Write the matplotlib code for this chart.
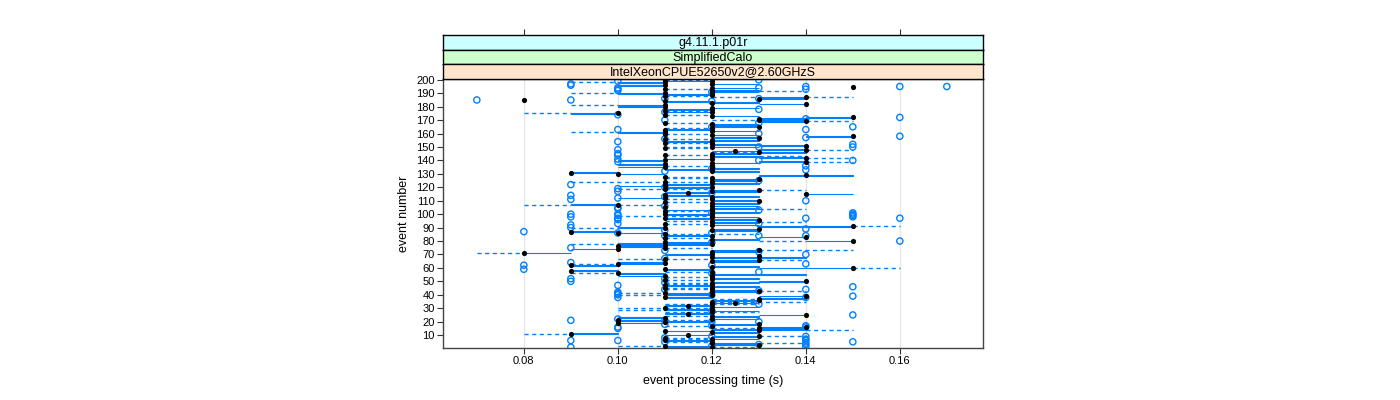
import numpy as np
import matplotlib.pyplot as plt
from matplotlib.patches import Rectangle
from matplotlib.collections import LineCollection

plt.rcParams['font.family'] = ['Liberation Sans', 'DejaVu Sans']

# per-event summary of processing time, in units of 0.01 s (events 1..200)
med = [
    12, 11, 13, 12, 12, 11, 12, 11, 13, 11.5,
    9, 12, 11, 13, 13, 14, 12, 13, 10, 11,
    10, 12, 11, 12, 14, 11.5, 12, 12, 12, 11,
    12, 11.5, 12, 12.5, 12, 13, 13, 11, 14, 12,
    11, 12, 13, 12, 11, 12, 11, 12, 12, 14,
    11, 12, 12, 11, 12, 10, 12, 9, 11, 15,
    12, 9, 10, 11, 12, 13, 11, 12, 13, 12,
    8, 12, 13, 10, 11, 10, 11, 12, 11, 15,
    12, 11, 14, 12, 11, 10, 9, 12, 13, 11,
    15, 12, 11, 12, 12, 13, 11, 12, 12, 11,
    12, 11, 12, 12, 11, 12, 10, 12, 11, 13,
    12, 11, 12, 11, 14, 11.5, 12, 13, 11, 12,
    11, 11, 12, 11, 12, 13, 12, 11, 14, 10,
    9, 12, 12, 12, 11, 12, 11, 12, 14, 11,
    12, 14, 12, 11, 12, 13, 12.5, 14, 11, 12,
    14, 12, 11, 12, 12, 11, 13, 15, 12, 11,
    11, 12, 11, 12, 13, 12, 12, 11, 14, 13,
    13, 15, 12, 11, 10, 12, 11, 12, 12, 11,
    11, 14, 12, 11, 8, 13, 14, 11, 12, 11,
    12, 12, 11, 12, 15, 11, 12, 11, 12, 11,
]
box_lo = [
    11, 11, 12, 12, 12, 11, 12, 11, 12, 11,
    9, 12, 11, 12, 13, 13, 12, 12, 10, 11,
    10, 12, 10, 12, 13, 11, 12, 12, 11, 11,
    12, 11, 12, 12, 12, 12, 13, 11, 13, 11,
    11, 12, 12, 12, 11, 12, 11, 12, 12, 13,
    11, 12, 12, 10, 12, 10, 12, 9, 11, 13,
    12, 9, 10, 10, 12, 12, 11, 12, 13, 11,
    8, 12, 12, 9, 11, 10, 10, 10, 11, 14,
    12, 11, 13, 11, 11, 10, 9, 12, 12, 10,
    13, 12, 11, 12, 12, 12, 11, 12, 12, 11,
    12, 11, 11, 12, 11, 12, 9, 12, 11, 12,
    12, 10, 12, 11, 14, 11, 12, 12, 11, 11,
    10, 11, 12, 11, 12, 12, 12, 11, 13, 10,
    9, 12, 11, 12, 10, 12, 10, 12, 13, 10,
    11, 13, 12, 11, 12, 13, 12, 13, 11, 12,
    13, 12, 11, 11, 12, 11, 12, 14, 12, 11,
    10, 12, 11, 12, 12, 12, 12, 11, 13, 13,
    13, 14, 12, 11, 9, 11, 11, 11, 12, 10,
    10, 13, 12, 11, 8, 13, 13, 11, 11, 10,
    12, 12, 11, 12, 15, 10, 12, 10, 11, 11,
]
box_hi = [
    12, 12, 13, 13, 12, 12, 13, 11, 13, 12,
    10, 13, 12, 14, 14, 14, 12, 13, 11, 12,
    11, 13, 11, 13, 14, 12, 12, 13, 12, 11,
    13, 12, 12, 13, 12, 13, 14, 12, 14, 12,
    12, 13, 13, 12, 11, 13, 12, 12, 13, 14,
    11, 13, 12, 11, 14, 11, 12, 10, 12, 15,
    13, 10, 11, 11, 13, 13, 11, 14, 13, 12,
    9, 13, 13, 10, 11, 11, 12, 12, 12, 15,
    13, 11, 14, 12, 11, 11, 10, 13, 13, 11,
    15, 13, 11, 13, 12, 13, 12, 13, 12, 12,
    13, 11, 12, 13, 11, 13, 10, 13, 11, 13,
    12, 11, 13, 12, 15, 12, 13, 13, 11, 12,
    11, 12, 13, 11, 13, 13, 12, 11, 15, 11,
    10, 13, 12, 13, 11, 12, 11, 13, 14, 11,
    12, 14, 13, 11, 13, 14, 13, 14, 11, 13,
    14, 13, 11, 12, 13, 11, 13, 15, 13, 11,
    11, 13, 12, 12, 13, 13, 13, 11, 14, 14,
    14, 15, 13, 11, 10, 12, 11, 12, 13, 11,
    11, 14, 13, 12, 8, 14, 14, 11, 12, 11,
    13, 13, 11, 13, 15, 11, 13, 11, 12, 11,
]
whisk_lo = [
    11, 10, 12, 12, 11, 11, 11, 11, 12, 11,
    8, 12, 11, 12, 12, 13, 11, 12, 10, 11,
    10, 12, 10, 11, 13, 11, 11, 12, 10, 10,
    12, 11, 11, 12, 12, 12, 12, 11, 13, 10,
    10, 12, 12, 11, 11, 12, 11, 11, 11, 13,
    11, 12, 11, 10, 12, 9, 11, 9, 11, 13,
    12, 9, 9, 10, 12, 12, 10, 12, 13, 11,
    7, 12, 12, 9, 11, 10, 10, 9, 11, 13,
    12, 11, 13, 11, 11, 10, 9, 12, 12, 9,
    13, 12, 11, 12, 11, 12, 11, 12, 10, 11,
    12, 11, 11, 12, 11, 12, 8, 12, 11, 12,
    11, 10, 12, 11, 14, 11, 12, 12, 10, 11,
    10, 11, 12, 9, 12, 12, 11, 11, 13, 10,
    9, 12, 11, 12, 10, 11, 10, 12, 13, 10,
    11, 13, 12, 11, 12, 12, 12, 13, 11, 11,
    13, 12, 11, 11, 12, 11, 12, 14, 12, 11,
    9, 12, 11, 11, 12, 12, 12, 11, 13, 12,
    13, 14, 12, 11, 8, 11, 11, 11, 12, 10,
    9, 13, 12, 11, 8, 13, 12, 11, 11, 9,
    12, 12, 11, 12, 15, 10, 12, 9, 11, 11,
]
whisk_hi = [
    13, 12, 13, 14, 12, 12, 13, 12, 14, 12,
    10, 13, 12, 15, 14, 14, 12, 13, 11, 12,
    12, 13, 11, 13, 14, 12, 13, 13, 12, 12,
    13, 12, 13, 13, 14, 13, 14, 12, 14, 12,
    12, 13, 14, 12, 12, 13, 12, 12, 13, 14,
    12, 13, 12, 11, 14, 11, 12, 10, 12, 16,
    13, 10, 11, 11, 13, 14, 12, 14, 13, 12,
    9, 13, 15, 10, 12, 11, 12, 12, 12, 15,
    13, 12, 14, 12, 13, 11, 10, 13, 13, 11,
    16, 13, 12, 14, 12, 13, 12, 13, 12, 12,
    13, 12, 12, 14, 11, 13, 11, 13, 12, 13,
    12, 11, 13, 12, 15, 12, 13, 14, 12, 12,
    11, 12, 13, 12, 13, 13, 12, 12, 15, 11,
    10, 13, 12, 13, 11, 12, 11, 13, 15, 11,
    12, 15, 14, 12, 13, 14, 13, 15, 12, 13,
    14, 13, 12, 12, 13, 12, 13, 15, 13, 12,
    11, 13, 12, 12, 13, 13, 13, 12, 15, 14,
    14, 15, 13, 12, 10, 12, 12, 12, 13, 11,
    11, 14, 13, 12, 8, 14, 15, 12, 12, 11,
    13, 14, 12, 13, 15, 11, 13, 11, 12, 12,
]

# outlying runs: event numbers per time value (0.01 s units)
out_at_07 = [185]
out_at_08 = [59, 62, 87]
out_at_09 = [1, 6, 21, 50, 52, 64, 75, 90, 92, 98, 100, 111, 114, 122, 185,
             196, 197]
out_at_10 = [6, 15, 16, 22, 38, 40, 41, 42, 47, 86, 93, 96, 97, 99, 100, 104,
             105, 112, 117, 119, 139, 141, 144, 145, 148, 154, 163, 174, 192,
             193, 194, 199]
out_at_11 = [5, 8, 18, 21, 44, 49, 52, 67, 73, 84, 88, 106, 113, 120, 132,
             156, 170, 176, 186]
out_at_12 = [2, 9, 17, 20, 28, 40, 56, 62, 79, 86, 101, 116, 134, 165, 184,
             191]
out_at_13 = [3, 20, 33, 43, 57, 72, 84, 93, 103, 125, 140, 150, 160, 168,
             178, 186, 194, 200]
out_at_14 = [1, 3, 4, 6, 7, 9, 16, 17, 38, 44, 63, 70, 84, 89, 97, 110, 133,
             136, 157, 163, 171, 193, 195]
out_at_15 = [5, 25, 39, 46, 98, 99, 100, 101, 140, 150, 152, 165]
out_at_16 = [80, 97, 158, 172, 195]
out_at_17 = [195]

x_ticks = [0.08, 0.10, 0.12, 0.14, 0.16]
y_ticks = list(range(10, 201, 10))
strips = ['g4.11.1.p01r', 'SimplifiedCalo', 'IntelXeonCPUE52650v2@2.60GHzS']
strip_cols = ['#ccffff', '#ccffcc', '#ffe5cc']

blue = '#0080ff'
s = 0.01
W, H = 1400, 400


def fx(px):
    return px / W


def fy(py):
    return 1 - py / H


fig = plt.figure(figsize=(14, 4), dpi=100)
ax = fig.add_axes([fx(443), fy(348), fx(983) - fx(443), fy(79) - fy(348)])

events = np.arange(1, len(med) + 1)
dash_segs = []
for ev, a, b, lo, hi in zip(events, box_lo, box_hi, whisk_lo, whisk_hi):
    ax.add_patch(Rectangle((a * s, ev - 0.25), (b - a) * s, 0.5, fill=False,
                           ec=blue, lw=0.8, zorder=2))
    if lo < a:
        dash_segs.append([(lo * s, ev), (a * s, ev)])
    if hi > b:
        dash_segs.append([(b * s, ev), (hi * s, ev)])

ax.add_collection(LineCollection(dash_segs, colors=blue, lw=1,
                                 linestyles=(0, (3, 2.5)), zorder=2))

out_groups = [(7, out_at_07), (8, out_at_08), (9, out_at_09), (10, out_at_10),
              (11, out_at_11), (12, out_at_12), (13, out_at_13),
              (14, out_at_14), (15, out_at_15), (16, out_at_16),
              (17, out_at_17)]
for val, evs in out_groups:
    ax.scatter([val * s] * len(evs), evs, s=20, facecolors='none',
               edgecolors=blue, linewidths=1, zorder=3)
ax.scatter(np.array(med) * s, events, s=14, c='black', lw=0, zorder=4)

for v in x_ticks:
    ax.axvline(v, color='#e6e6e6', lw=1, zorder=0)

ax.set_xlim(0.0628, 0.1777)
ax.set_ylim(0.4, 200.6)
ax.set_xticks(x_ticks)
ax.set_xticklabels(['%.2f' % v for v in x_ticks])
ax.set_yticks(y_ticks)
ax.tick_params(axis='both', direction='out', length=4, width=0.8,
               color='#333333', labelsize=8, pad=2)
for sp in ax.spines.values():
    sp.set_color('#444444')
    sp.set_linewidth(1)
ax.set_xlabel('event processing time (s)', fontsize=9, labelpad=6)
ax.set_ylabel('event number', fontsize=9, labelpad=4)

# strips, outermost first
strip_h = (79 - 35) / 3
for i, (txt, col) in enumerate(zip(strips, strip_cols)):
    top = 35 + i * strip_h
    sax = fig.add_axes([fx(443), fy(top + strip_h), fx(983) - fx(443),
                        strip_h / H])
    sax.set_facecolor(col)
    sax.set_xlim(ax.get_xlim())
    sax.set_yticks([])
    sax.set_xticks(x_ticks if i == 0 else [])
    sax.tick_params(axis='x', top=True, bottom=False, labeltop=False,
                    labelbottom=False, direction='out', length=4,
                    width=0.8, color='#333333')
    for sp in sax.spines.values():
        sp.set_color('black')
        sp.set_linewidth(1)
    sax.text(0.5, 0.45, txt, transform=sax.transAxes, ha='center',
             va='center', fontsize=9)

fig.savefig('out.png', dpi=100)
